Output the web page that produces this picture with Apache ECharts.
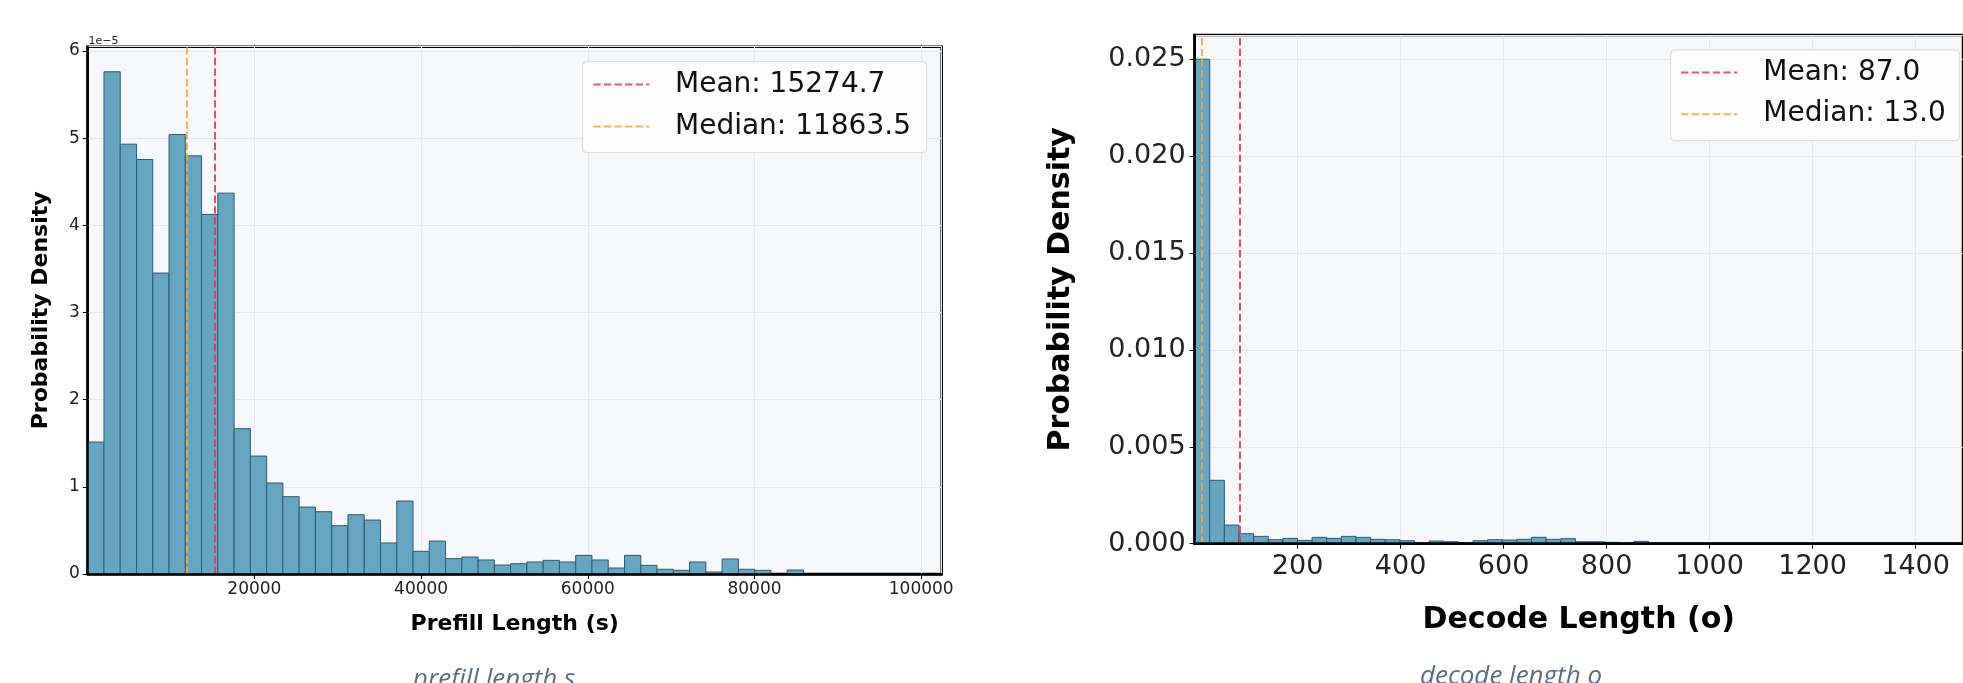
<!DOCTYPE html>
<html><head><meta charset="utf-8">
<script src="https://cdn.jsdelivr.net/npm/echarts@6/dist/echarts.min.js"></script>
<style>html,body{margin:0;padding:0;background:#fff;}#c{width:1963px;height:683px;}</style>
</head><body><div id="c"></div>
<script>
// ---------- DATA ----------
// Prefill length histogram: 50 bins, density in units of 1e-5
const prefillBinStart = 0;
const prefillBinWidth = 1951.6;
const prefillDensityE5 = [1.514,5.761,4.931,4.755,3.452,5.042,4.797,4.125,4.369,1.667,
  1.353,1.044,0.887,0.768,0.715,0.554,0.680,0.619,0.356,0.837,
  0.260,0.378,0.176,0.195,0.161,0.103,0.118,0.138,0.157,0.138,
  0.214,0.161,0.069,0.214,0.099,0.054,0.042,0.138,0.023,0.172,
  0.054,0.042,0,0.046,0,0,0,0,0,0];
const prefillMean = 15274.7;
const prefillMedian = 11863.5;
const prefillXTicks = [20000, 40000, 60000, 80000, 100000];
const prefillYTicks = [0, 1, 2, 3, 4, 5, 6];

// Decode length histogram: 50 bins, density
const decodeBinStart = 1;
const decodeBinWidth = 28.4;
const decodeDensity = [0.02499,0.00327,0.00096,0.000516,0.000377,0.000206,0.000275,0.00017,0.000327,0.000275,
  0.000377,0.000327,0.000224,0.000206,0.000155,0.00005,0.000137,0.000103,0.00005,0.000155,
  0.000206,0.00019,0.000224,0.00033,0.000224,0.00026,0.0001,0.0001,0.00007,0,
  0.00012,0,0,0,0,0,0,0,0,0,
  0,0,0,0,0,0,0,0,0,0];
const decodeMean = 87.0;
const decodeMedian = 13.0;
const decodeXTicks = [200, 400, 600, 800, 1000, 1200, 1400];
const decodeYTicks = [0.000, 0.005, 0.010, 0.015, 0.020, 0.025];

// ---------- CHART ----------
const FONT = 'DejaVu Sans';
const BAR_FILL = '#66a6c2';
const BAR_EDGE = '#2e5b70';
const MEAN_COLOR = '#e63950';
const MEDIAN_COLOR = '#f4a63b';
const DASH = [7.4, 3.2];

function binsToData(start, width, vals) {
  return vals.map((v, i) => [start + i * width, v, start + (i + 1) * width]);
}
function histRender(params, api) {
  const v = api.value(1);
  if (!v) return null;
  const p0 = api.coord([api.value(0), v]);
  const p1 = api.coord([api.value(2), 0]);
  return {type: 'rect', shape: {x: p0[0], y: p0[1], width: p1[0] - p0[0], height: p1[1] - p0[1]},
    style: {fill: BAR_FILL, stroke: BAR_EDGE, lineWidth: 1}};
}
function histMax(start, width, vals) { return start + vals.length * width; }

const prefillDataMax = histMax(prefillBinStart, prefillBinWidth, prefillDensityE5);
const prefillXMax = prefillDataMax + 0.05 * (prefillDataMax - prefillBinStart);
const prefillYMax = Math.max(...prefillDensityE5) * 1.05;
const decodeDataMax = histMax(decodeBinStart, decodeBinWidth, decodeDensity);
const decodeXMax = decodeDataMax + 0.05 * (decodeDataMax - decodeBinStart);
const decodeYMax = Math.max(...decodeDensity) * 1.05;

const GRID_L = {left: 87.7, top: 46.7, width: 854, height: 527.3};
const GRID_R = {left: 1194.6, top: 35, width: 781.4, height: 508.7};

function xAxisCfg(gi, max, interval, fontSize, margin, name, nameSize, nameGap, ticks) {
  return {
    gridIndex: gi, type: 'value', min: 0, max: max, interval: interval, position: 'bottom',
    axisLine: {show: false},
    axisTick: {show: true, length: 5, lineStyle: {color: '#000', width: 1}},
    axisLabel: {fontSize: fontSize, fontFamily: FONT, color: '#222', margin: margin,
      showMinLabel: false, showMaxLabel: false,
      formatter: v => ticks.includes(v) ? String(v) : ''},
    splitLine: {show: true, lineStyle: {color: '#e7e9ed', width: 1}},
    name: name, nameLocation: 'middle', nameGap: nameGap,
    nameTextStyle: {fontSize: nameSize, fontWeight: 'bold', fontFamily: FONT, color: '#000'}
  };
}
function yAxisCfg(gi, max, interval, fontSize, margin, nameSize, nameGap, fmt) {
  return {
    gridIndex: gi, type: 'value', min: 0, max: max, interval: interval, position: 'left',
    axisLine: {show: false},
    axisTick: {show: true, length: 5, lineStyle: {color: '#000', width: 1}},
    axisLabel: {fontSize: fontSize, fontFamily: FONT, color: '#222', margin: margin,
      showMaxLabel: false, formatter: fmt},
    splitLine: {show: true, lineStyle: {color: '#e7e9ed', width: 1}},
    name: 'Probability Density', nameLocation: 'middle', nameGap: nameGap, nameRotate: 90,
    nameTextStyle: {fontSize: nameSize, fontWeight: 'bold', fontFamily: FONT, color: '#000'}
  };
}
// spine overlays drawn above the bars
function spineAxis(kind, gi, max) {
  return {gridIndex: gi, type: 'value', min: 0, max: max, z: 10,
    position: kind === 'x' ? 'bottom' : 'left',
    axisLine: {show: true, onZero: false, lineStyle: {color: '#000', width: 2.5}},
    axisTick: {show: false}, axisLabel: {show: false}, splitLine: {show: false}};
}
function vline(xi, yi, value, color) {
  return {type: 'line', xAxisIndex: xi, yAxisIndex: yi, data: [], symbol: 'none', z: 5,
    markLine: {silent: true, symbol: ['none', 'none'], animation: false, label: {show: false},
      lineStyle: {type: DASH, width: 2, color: color, opacity: 0.9},
      data: [{xAxis: value}]}};
}
function legendBox(box, lineX0, lineX1, textX, rows, fontSize) {
  const els = [{type: 'rect', shape: {x: box[0], y: box[1], width: box[2], height: box[3], r: 4},
    style: {fill: 'rgba(255,255,255,0.85)', stroke: '#d9d9d9', lineWidth: 1}, z: 20}];
  rows.forEach(r => {
    els.push({type: 'line', shape: {x1: lineX0, y1: r.y, x2: lineX1, y2: r.y},
      style: {stroke: r.color, lineWidth: 2, lineDash: DASH, opacity: 0.85}, z: 21});
    els.push({type: 'text', x: textX, y: r.y,
      style: {text: r.text, fill: '#111', font: fontSize + 'px "' + FONT + '"', verticalAlign: 'middle', align: 'left'}, z: 21});
  });
  return els;
}

const chart = echarts.init(document.getElementById('c'), null, {renderer: 'canvas'});
const option = {
  animation: false,
  backgroundColor: '#ffffff',
  grid: [
    Object.assign({show: true, backgroundColor: '#f7f8fa', borderColor: '#000', borderWidth: 2.5}, GRID_L),
    Object.assign({show: true, backgroundColor: '#f7f8fa', borderColor: '#000', borderWidth: 2.5}, GRID_R)
  ],
  xAxis: [
    xAxisCfg(0, prefillXMax, 20000, 17, 7, 'Prefill Length (s)', 22, 39, prefillXTicks),
    xAxisCfg(1, decodeXMax, 200, 27, 9.5, 'Decode Length (o)', 30, 62, decodeXTicks),
    spineAxis('x', 0, prefillXMax),
    spineAxis('x', 1, decodeXMax)
  ],
  yAxis: [
    yAxisCfg(0, prefillYMax, 1, 17, 8, 22, 35, v => prefillYTicks.includes(v) ? String(v) : ''),
    yAxisCfg(1, decodeYMax, 0.005, 27, 9, 30, 118, v => {
      const m = decodeYTicks.find(t => Math.abs(t - v) < 1e-9);
      return m === undefined ? '' : m.toFixed(3);
    }),
    spineAxis('y', 0, prefillYMax),
    spineAxis('y', 1, decodeYMax)
  ],
  series: [
    {type: 'custom', xAxisIndex: 0, yAxisIndex: 0, renderItem: histRender, clip: true,
      encode: {x: [0, 2], y: 1}, data: binsToData(prefillBinStart, prefillBinWidth, prefillDensityE5), z: 2},
    {type: 'custom', xAxisIndex: 1, yAxisIndex: 1, renderItem: histRender, clip: true,
      encode: {x: [0, 2], y: 1}, data: binsToData(decodeBinStart, decodeBinWidth, decodeDensity), z: 2},
    vline(0, 0, prefillMedian, MEDIAN_COLOR),
    vline(0, 0, prefillMean, MEAN_COLOR),
    vline(1, 1, decodeMedian, MEDIAN_COLOR),
    vline(1, 1, decodeMean, MEAN_COLOR)
  ],
  graphic: [].concat(
    legendBox([582.7, 61.7, 344, 91], 593.3, 649.3, 675,
      [{y: 84.5, color: MEAN_COLOR, text: 'Mean: ' + prefillMean.toFixed(1)},
       {y: 126.5, color: MEDIAN_COLOR, text: 'Median: ' + prefillMedian.toFixed(1)}], 28),
    legendBox([1670.7, 50, 288.6, 90.7], 1681, 1737.3, 1763.3,
      [{y: 72.5, color: MEAN_COLOR, text: 'Mean: ' + decodeMean.toFixed(1)},
       {y: 114.2, color: MEDIAN_COLOR, text: 'Median: ' + decodeMedian.toFixed(1)}], 28),
    [
      {type: 'text', x: 88.5, y: 41, z: 20,
        style: {text: '1e\u22125', fill: '#222', font: '11px "' + FONT + '"', verticalAlign: 'middle', align: 'left'}},
      {type: 'text', x: 494, y: 667, z: 20,
        style: {text: 'prefill length s', fill: '#5d6d86', font: 'italic 26px "Open Sans"', verticalAlign: 'top', align: 'center'}},
      {type: 'text', x: 1511, y: 664, z: 20,
        style: {text: 'decode length o', fill: '#5d6d86', font: 'italic 26px "Open Sans"', verticalAlign: 'top', align: 'center'}}
    ]
  )
};
chart.setOption(option);
</script></body></html>
